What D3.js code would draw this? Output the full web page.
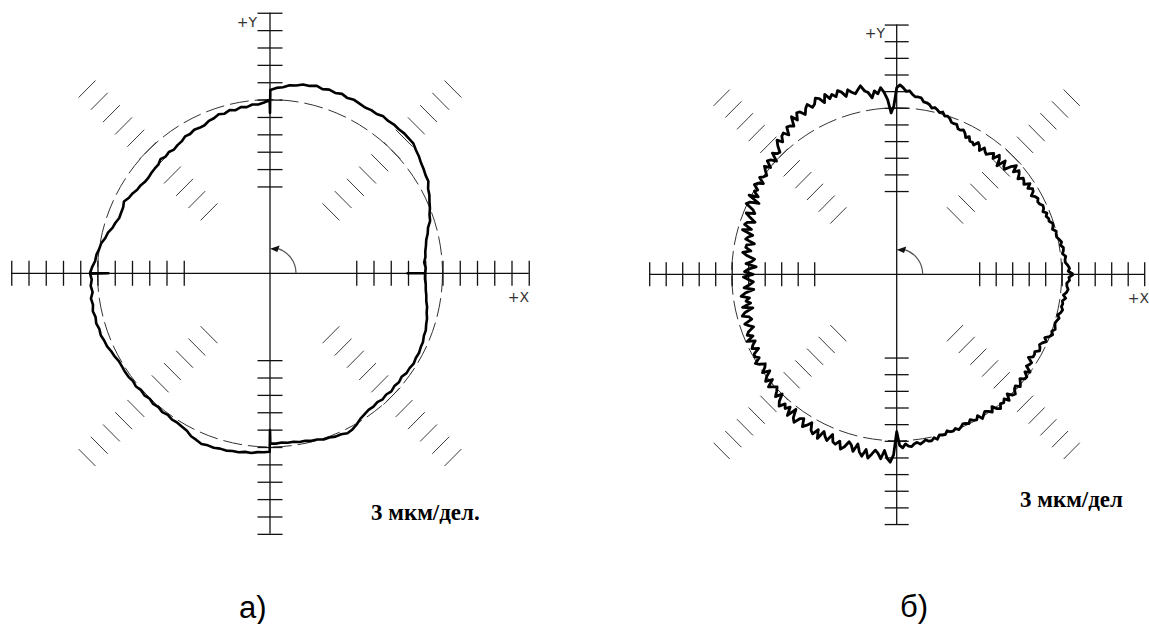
<!DOCTYPE html>
<html>
<head>
<meta charset="utf-8">
<script src="https://cdn.jsdelivr.net/npm/d3@7"></script>
<style>
  body { margin: 0; background: #fff; }
  svg { display: block; }
</style>
</head>
<body>
<svg id="chart" width="1149" height="624"></svg>
<script>
// Graduations on each half-axis and along the diagonals, in divisions (3 µm each)
const axisTicks = [5, 6, 7, 8, 9, 10, 11, 12, 13, 14, 15];
const diagTicks = [5, 6, 7, 8, 9, 10, 11, 12, 13, 14, 15];
const diagAngles = [45, 135, 225, 315];
// Radius of the reference (mean) circle, in divisions
const refRadius = 10;

// Profile а: [angle in degrees, radius in divisions]
const profileA = [
  [0, 7.92], [0, 8.99], [2, 9.03], [4, 8.96], [6, 9.06], [8, 9.09], [10, 9.18], [12, 9.26],
  [14, 9.42], [16, 9.53], [18, 9.76], [20, 9.84], [22, 10.00], [24, 10.12], [26, 10.28],
  [28, 10.38], [30, 10.60], [32, 10.64], [34, 10.74], [36, 10.82], [38, 10.95], [40, 11.04],
  [42, 11.18], [44, 11.18], [46, 11.20], [48, 11.16], [50, 11.18], [52, 11.13], [54, 11.17],
  [56, 11.06], [58, 11.08], [60, 11.02], [62, 11.06], [64, 11.11], [66, 11.04], [68, 11.14],
  [70, 11.05], [72, 11.12], [74, 11.03], [76, 11.13], [78, 11.03], [80, 11.04], [82, 10.92],
  [84, 10.88], [86, 10.74], [88, 10.68], [89.9, 10.55], [90, 9.23], [90.1, 9.98],
  [92, 9.84], [94, 9.74], [96, 9.77], [98, 9.66], [100, 9.72], [102, 9.60], [104, 9.68],
  [106, 9.56], [108, 9.63], [110, 9.50], [112, 9.46], [114, 9.33], [116, 9.32], [118, 9.36],
  [120, 9.26], [122, 9.29], [124, 9.16], [126, 9.12], [128, 9.04], [130, 9.12], [132, 9.04],
  [134, 9.14], [136, 9.00], [138, 9.00], [140, 8.98], [142, 8.94], [144, 8.96], [146, 9.05],
  [148, 9.08], [150, 9.20], [152, 9.26], [154, 9.42], [156, 9.32], [158, 9.31], [160, 9.30],
  [162, 9.42], [164, 9.50], [166, 9.68], [168, 9.76], [170, 9.94], [172, 10.00], [174, 10.12],
  [176, 10.16], [178, 10.32], [179.9, 10.43], [180, 9.37], [180.1, 10.43],
  [182, 10.34], [184, 10.42], [186, 10.34], [188, 10.48], [190, 10.42], [192, 10.50],
  [194, 10.42], [196, 10.48], [198, 10.40], [200, 10.44], [202, 10.36], [204, 10.34],
  [206, 10.24], [208, 10.20], [210, 10.12], [212, 10.12], [214, 10.14], [216, 10.14],
  [218, 10.08], [220, 10.14], [222, 10.06], [224, 10.12], [226, 10.04], [228, 10.12],
  [230, 10.06], [232, 10.14], [234, 10.08], [236, 10.16], [238, 10.14], [240, 10.20],
  [242, 10.26], [244, 10.44], [246, 10.50], [248, 10.60], [250, 10.54], [252, 10.56],
  [254, 10.50], [256, 10.52], [258, 10.46], [260, 10.46], [262, 10.38], [264, 10.40],
  [266, 10.32], [268, 10.31], [269.9, 10.27], [270, 9.02], [270.1, 9.79],
  [272, 9.81], [274, 9.77], [276, 9.81], [278, 9.79], [280, 9.86], [282, 9.86], [284, 9.94],
  [286, 9.95], [288, 10.06], [290, 10.06], [292, 10.14], [294, 10.14], [296, 10.24],
  [298, 10.18], [300, 10.05], [302, 9.88], [304, 9.79], [306, 9.72], [308, 9.74], [310, 9.68],
  [312, 9.76], [314, 9.70], [316, 9.78], [318, 9.70], [320, 9.76], [322, 9.68], [324, 9.78],
  [326, 9.76], [328, 9.82], [330, 9.76], [332, 9.78], [334, 9.72], [336, 9.71], [338, 9.62],
  [340, 9.61], [342, 9.52], [344, 9.47], [346, 9.36], [348, 9.31], [350, 9.20], [352, 9.15],
  [354, 9.08], [356, 9.05], [358, 8.99], [360, 8.99]
];

// Profile б: radius in divisions at every degree, 0°..359°
const profileB = [
  10.70, 10.40, 10.48, 10.38, 10.24, 10.24, 10.30, 10.12, 10.20, 10.23,
  10.08, 10.18, 10.07, 9.95, 9.96, 10.01, 9.82, 9.91, 9.94, 9.77,
  9.80, 9.70, 9.82, 9.63, 9.75, 9.78, 9.64, 9.59, 9.70, 9.61,
  9.42, 9.65, 9.71, 9.48, 9.74, 9.41, 9.53, 9.60, 9.32, 9.55,
  9.68, 9.37, 9.76, 9.49, 9.07, 9.18, 9.47, 8.91, 9.30, 9.48,
  9.08, 9.35, 9.19, 9.02, 9.11, 9.27, 8.96, 9.21, 9.33, 9.06,
  9.17, 9.14, 9.37, 9.21, 9.44, 9.57, 9.48, 9.50, 9.71, 9.69,
  9.71, 9.89, 9.99, 9.94, 10.14, 10.05, 10.18, 10.28, 10.21, 10.39,
  10.46, 10.48, 10.70, 10.73, 10.72, 10.86, 11.05, 11.00, 11.22, 11.38,
  11.20, 10.10, 9.70, 10.50, 10.95, 11.25, 10.90, 11.10, 10.70, 11.05,
  11.18, 11.53, 11.33, 11.13, 11.27, 11.47, 11.11, 11.44, 11.60, 11.28,
  11.50, 11.30, 11.65, 11.20, 11.55, 11.67, 11.36, 11.25, 11.56, 11.38,
  11.08, 11.38, 11.44, 11.05, 11.41, 10.86, 11.01, 11.07, 10.62, 10.92,
  10.83, 10.53, 10.84, 10.57, 10.19, 10.25, 10.47, 9.96, 10.27, 10.39,
  9.98, 10.31, 10.09, 9.86, 9.96, 10.14, 9.75, 10.04, 10.17, 9.83,
  9.96, 9.60, 10.13, 9.37, 9.89, 10.06, 9.54, 9.34, 9.83, 9.51,
  9.14, 9.58, 9.69, 9.21, 9.72, 9.04, 9.27, 9.39, 8.82, 9.26,
  9.29, 8.95, 9.42, 9.12, 8.66, 8.81, 9.15, 8.53, 9.00, 9.22,
  8.70, 9.29, 9.00, 8.70, 8.93, 9.28, 8.71, 9.25, 9.52, 9.03,
  9.27, 9.02, 9.55, 8.95, 9.47, 9.69, 9.30, 9.19, 9.68, 9.47,
  9.23, 9.62, 9.77, 9.46, 9.91, 9.46, 9.70, 9.84, 9.48, 9.87,
  9.93, 9.72, 10.10, 9.92, 9.61, 9.76, 10.05, 9.63, 10.01, 10.22,
  9.83, 10.30, 10.10, 9.91, 10.11, 10.39, 9.99, 10.43, 10.65, 10.31,
  10.52, 10.26, 10.76, 10.15, 10.66, 10.85, 10.45, 10.33, 10.79, 10.57,
  10.29, 10.71, 10.85, 10.47, 10.97, 10.42, 10.67, 10.84, 10.37, 10.79,
  10.86, 10.60, 11.04, 10.83, 10.46, 10.62, 10.96, 10.46, 10.90, 11.13,
  10.68, 11.18, 10.91, 10.64, 10.82, 11.12, 10.61, 11.07, 11.29, 10.85,
  9.45, 10.28, 10.43, 10.20, 10.35, 10.39, 10.23, 10.17, 10.30, 10.21,
  10.09, 10.21, 10.22, 10.07, 10.21, 9.99, 10.04, 10.07, 9.88, 10.00,
  10.02, 9.92, 10.06, 9.97, 9.84, 9.88, 9.98, 9.80, 9.93, 10.00,
  9.80, 10.10, 9.95, 9.81, 9.93, 10.10, 9.82, 10.10, 10.23, 9.99,
  10.09, 9.92, 10.19, 9.82, 10.09, 10.17, 9.92, 9.83, 10.08, 9.93,
  9.75, 9.98, 10.01, 9.73, 9.99, 9.60, 9.70, 9.75, 9.41, 9.64,
  9.64, 9.57, 9.80, 9.75, 9.63, 9.74, 9.93, 9.75, 9.98, 10.12,
  10.00, 10.16, 10.09, 10.03, 10.10, 10.19, 10.06, 10.21, 10.28, 10.17,
  10.22, 10.17, 10.34, 10.18, 10.35, 10.43, 10.34, 10.32, 10.48, 10.44
];

const captions = ["а)", "б)"];
const scaleLabels = ["3 мкм/дел.", "3 мкм/дел"];

// ---- layout of the two polar diagrams ----
const panels = [
  {
    points: profileA,
    x: d3.scaleLinear().domain([-15, 15]).range([11.25, 528.75]),
    y: d3.scaleLinear().domain([-15, 15]).range([533.85, 12.75]),
    tick: 25, lineWidth: 2.6,
    caption: captions[0], captionAt: [239, 618],
    scale: scaleLabels[0], scaleAt: [371, 520],
    yLabelAt: [257, 27], xLabelAt: [529, 302]
  },
  {
    points: profileB.map((r, i) => [i, r]).concat([[360, profileB[0]]]),
    x: d3.scaleLinear().domain([-15, 15]).range([649.2, 1144.2]),
    y: d3.scaleLinear().domain([-15, 15]).range([524.05, 24.55]),
    tick: 24, lineWidth: 2.8,
    caption: captions[1], captionAt: [900, 617],
    scale: scaleLabels[1], scaleAt: [1020, 507],
    yLabelAt: [885, 38], xLabelAt: [1149, 303]
  }
];

const svg = d3.select("#chart");
const rad = d => d * Math.PI / 180;
const hatchHalf = 0.69;
const signedTicks = axisTicks.flatMap(v => [-v, v]);

panels.forEach(p => {
  const g = svg.append("g");
  const x0 = p.x(0), y0 = p.y(0);

  // diagonal graduation strokes, perpendicular to the 45° rays
  const hatch = diagAngles.flatMap(a => diagTicks.map(r => ({ a, r })));
  g.append("g")
    .attr("stroke", "#3a3a3a").attr("stroke-width", 1)
    .selectAll("line").data(hatch).join("line")
    .attr("x1", d => p.x(d.r * Math.cos(rad(d.a)) - hatchHalf * Math.sin(rad(d.a))))
    .attr("y1", d => p.y(d.r * Math.sin(rad(d.a)) + hatchHalf * Math.cos(rad(d.a))))
    .attr("x2", d => p.x(d.r * Math.cos(rad(d.a)) + hatchHalf * Math.sin(rad(d.a))))
    .attr("y2", d => p.y(d.r * Math.sin(rad(d.a)) - hatchHalf * Math.cos(rad(d.a))));

  // reference circle, dashed
  g.append("ellipse")
    .attr("cx", x0).attr("cy", y0)
    .attr("rx", p.x(refRadius) - x0).attr("ry", y0 - p.y(refRadius))
    .attr("fill", "none").attr("stroke", "#333").attr("stroke-width", 1)
    .attr("stroke-dasharray", "19 6");

  // graduations on the X and Y axes
  g.append("g")
    .attr("transform", `translate(0,${y0 - p.tick / 2})`)
    .style("color", "#111")
    .call(d3.axisBottom(p.x).tickValues(signedTicks).tickSize(p.tick).tickFormat(""))
    .call(a => a.select(".domain").remove())
    .call(a => a.selectAll("line").attr("stroke-width", 1.3));
  g.append("g")
    .attr("transform", `translate(${x0 - p.tick / 2},0)`)
    .style("color", "#111")
    .call(d3.axisRight(p.y).tickValues(signedTicks).tickSize(p.tick).tickFormat(""))
    .call(a => a.select(".domain").remove())
    .call(a => a.selectAll("line").attr("stroke-width", 1.3));

  // main axis lines
  g.append("line")
    .attr("x1", p.x(-15)).attr("x2", p.x(15)).attr("y1", y0).attr("y2", y0)
    .attr("stroke", "#111").attr("stroke-width", 1.3);
  g.append("line")
    .attr("x1", x0).attr("x2", x0).attr("y1", p.y(15)).attr("y2", p.y(-15))
    .attr("stroke", "#111").attr("stroke-width", 1.3);

  // direction-of-rotation arrow
  const arcR = 26;
  const arc = d3.path();
  arc.arc(x0, y0, arcR, 0, -rad(74), true);
  g.append("path").attr("d", arc.toString())
    .attr("fill", "none").attr("stroke", "#555").attr("stroke-width", 1.2);
  const tipA = -rad(90), baseA = -rad(71);
  const tip = [x0 + (arcR - 1.5) * Math.cos(tipA), y0 + (arcR - 1.5) * Math.sin(tipA)];
  const b1 = [x0 + (arcR + 3.5) * Math.cos(baseA), y0 + (arcR + 3.5) * Math.sin(baseA)];
  const b2 = [x0 + (arcR - 3.5) * Math.cos(baseA), y0 + (arcR - 3.5) * Math.sin(baseA)];
  g.append("path").attr("d", d3.line()([tip, b1, b2]) + "Z").attr("fill", "#111");

  // axis names
  g.append("text").attr("x", p.yLabelAt[0]).attr("y", p.yLabelAt[1])
    .attr("text-anchor", "end").attr("font-family", "DejaVu Sans, sans-serif")
    .attr("font-size", 14).attr("fill", "#333").text("+Y");
  g.append("text").attr("x", p.xLabelAt[0]).attr("y", p.xLabelAt[1])
    .attr("text-anchor", "end").attr("font-family", "DejaVu Sans, sans-serif")
    .attr("font-size", 14).attr("fill", "#333").text("+X");

  // measured profile
  const line = d3.line()
    .x(d => p.x(d[1] * Math.cos(rad(d[0]))))
    .y(d => p.y(d[1] * Math.sin(rad(d[0]))));
  g.append("path").datum(p.points).attr("d", line)
    .attr("fill", "none").attr("stroke", "#000")
    .attr("stroke-width", p.lineWidth).attr("stroke-linejoin", "round");

  // magnification note and caption
  g.append("text").attr("x", p.scaleAt[0]).attr("y", p.scaleAt[1])
    .attr("font-family", "Liberation Serif, Times New Roman, serif")
    .attr("font-weight", "bold").attr("font-size", 23).attr("fill", "#000")
    .text(p.scale);
  g.append("text").attr("x", p.captionAt[0]).attr("y", p.captionAt[1])
    .attr("font-family", "Liberation Sans, Arial, sans-serif")
    .attr("font-size", 31).attr("fill", "#000").text(p.caption);
});
</script>
</body>
</html>
